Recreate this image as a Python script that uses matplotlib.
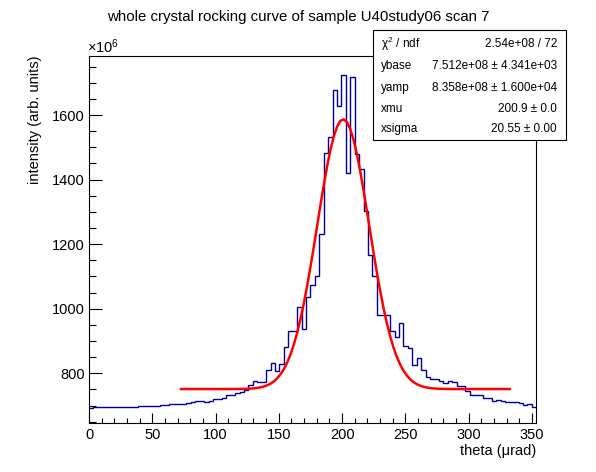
import numpy as np
import matplotlib
matplotlib.use('Agg')
import matplotlib.pyplot as plt
from matplotlib.ticker import MultipleLocator
from matplotlib.patches import Rectangle

plt.rcParams['font.family'] = ['Liberation Sans', 'DejaVu Sans']
plt.rcParams['mathtext.fontset'] = 'custom'
plt.rcParams['mathtext.rm'] = 'Liberation Sans'
plt.rcParams['mathtext.it'] = 'Liberation Sans:italic'

# ---------------- data ----------------
title = "whole crystal rocking curve of sample U40study06 scan 7"
x_label = "theta (\u03bcrad)"
y_label = "intensity (arb. units)"
bin_width = 3.5            # theta units (urad)
# intensity per bin, in units of 1e6
counts = ([693] + [695] * 10 + [698] * 5 + [702] * 2 + [705] * 4 +
          [708, 712, 713, 713, 710, 715, 719.5, 721.5, 724.5, 732, 732,
           737.5, 742.5, 749, 763, 775, 772.5, 774.5, 810, 831, 807, 829,
           883, 932, 932, 1005, 937, 1037, 1073, 1101, 1231, 1481, 1531,
           1679, 1628, 1725, 1422, 1719, 1479, 1432, 1304, 1166, 1101,
           980, 980, 981, 931, 912, 955, 884, 877, 825, 846, 810, 788,
           781, 781, 775, 769, 775, 773, 761, 761, 746, 732, 732, 732,
           723.5, 723.5, 714, 717, 714, 711, 711, 711, 707, 701, 704, 695])

fit_ybase = 751.2
fit_yamp = 835.8
fit_xmu = 200.9
fit_xsigma = 20.55
fit_range = (72.7, 332.5)

stat_names = ["\u03c7$^{2}$ / ndf", "ybase", "yamp", "xmu", "xsigma"]
stat_values = ["2.54e+08 / 72",
               "7.512e+08 \u00b1 4.341e+03",
               "8.358e+08 \u00b1 1.600e+04",
               "200.9 \u00b1 0.0",
               "20.55 \u00b1 0.00"]

x_limits = (0, 353.5)
y_limits = (647, 1783)

# ---------------- figure ----------------
W, H = 596, 472
fig = plt.figure(figsize=(W / 100, H / 100), dpi=100)
L, R, T, B = 89, 536.3, 56, 422.7
ax = fig.add_axes([L / W, 1 - B / H, (R - L) / W, (B - T) / H])

edges = np.arange(len(counts) + 1) * bin_width
ax.stairs(counts, edges, color='#000099', lw=1.0, baseline=None)

xf = np.linspace(fit_range[0], fit_range[1], 100)
yf = fit_ybase + fit_yamp * np.exp(-0.5 * ((xf - fit_xmu) / fit_xsigma) ** 2)
ax.plot(xf, yf, color='#ff0000', lw=1.8)

ax.set_xlim(*x_limits)
ax.set_ylim(*y_limits)

ax.xaxis.set_major_locator(MultipleLocator(50))
ax.xaxis.set_minor_locator(MultipleLocator(10))
ax.yaxis.set_major_locator(MultipleLocator(200))
ax.yaxis.set_minor_locator(MultipleLocator(50))

ax.tick_params(axis='x', which='major', direction='in', length=7.2, width=0.8,
               labelsize=10.5, pad=4)
ax.tick_params(axis='x', which='minor', direction='in', length=3.6, width=0.8)
ax.tick_params(axis='y', which='major', direction='in', length=9.4, width=0.8,
               labelsize=10.5, pad=3)
ax.tick_params(axis='y', which='minor', direction='in', length=4.7, width=0.8)
for s in ax.spines.values():
    s.set_linewidth(0.8)

# labels
fig.text(298.5 / W, 1 - 17 / H, title, ha='center', va='center', fontsize=10.8)
fig.text(536.5 / W, 1 - 451 / H, x_label, ha='right', va='center', fontsize=10.5)
fig.text(35 / W, 1 - 56 / H, y_label, ha='center', va='top', rotation=90,
         fontsize=10.5)
fig.text(87 / W, 1 - 53 / H, r'$\times$10$^{6}$', ha='left', va='baseline',
         fontsize=10.5)

# stats box
bx0, bx1, by0, by1 = 373, 566, 30, 140
rect = Rectangle((bx0 / W, 1 - by1 / H), (bx1 - bx0) / W, (by1 - by0) / H,
                 transform=fig.transFigure, facecolor='white',
                 edgecolor='black', lw=0.8, zorder=10)
fig.patches.append(rect)
row_y = [44, 66, 88, 109, 129]
for name, val, yy in zip(stat_names, stat_values, row_y):
    fig.text(381 / W, 1 - yy / H, name, ha='left', va='center', fontsize=8.5,
             zorder=11)
    fig.text(557 / W, 1 - yy / H, val, ha='right', va='center', fontsize=8.5,
             zorder=11)

fig.savefig('out.png', dpi=100)
